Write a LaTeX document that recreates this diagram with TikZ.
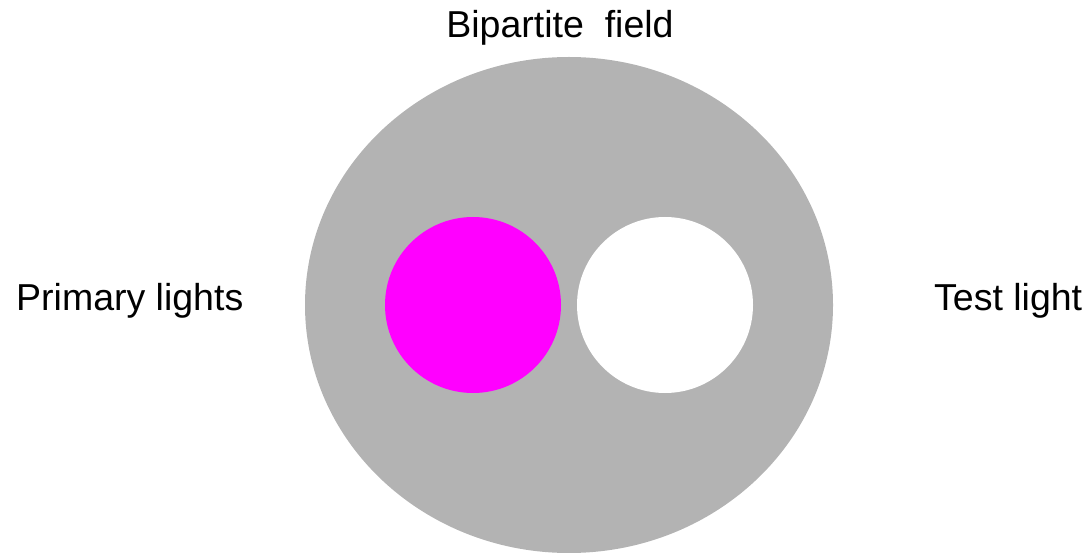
\documentclass[tikz,border=0pt]{standalone}
\usepackage{fontspec}
\setmainfont{Liberation Sans}
\usetikzlibrary{shapes.geometric}
\definecolor{fieldgrey}{RGB}{179,179,179}
\definecolor{primarymagenta}{RGB}{255,0,255}
\tikzset{
	spot/.style={circle,inner sep=0pt,minimum size=176pt},
	caption/.style={inner sep=0pt,font=\fontsize{37.5}{45}\selectfont}
}
\begin{document}
\begin{tikzpicture}[x=1pt,y=-1pt]
		\useasboundingbox (0,0) rectangle (1092,553);
		
		\node[ellipse,fill=fieldgrey,inner sep=0pt,minimum width=528pt,minimum height=496pt] (field) at (569,305) {};
		
		\node[spot,fill=primarymagenta] (primaryspot) at (473,305) {};
		\node[spot,fill=white] (testspot) at (665,305) {};
		
		\node[caption,anchor=base] (fieldlabel) at (560,38) {Bipartite\ \ field};
		\node[caption,anchor=base west] (primarylabel) at (16,310) {Primary lights};
		\node[caption,anchor=base west] (testlabel) at (934,310) {Test light};
	\end{tikzpicture}
\end{document}
